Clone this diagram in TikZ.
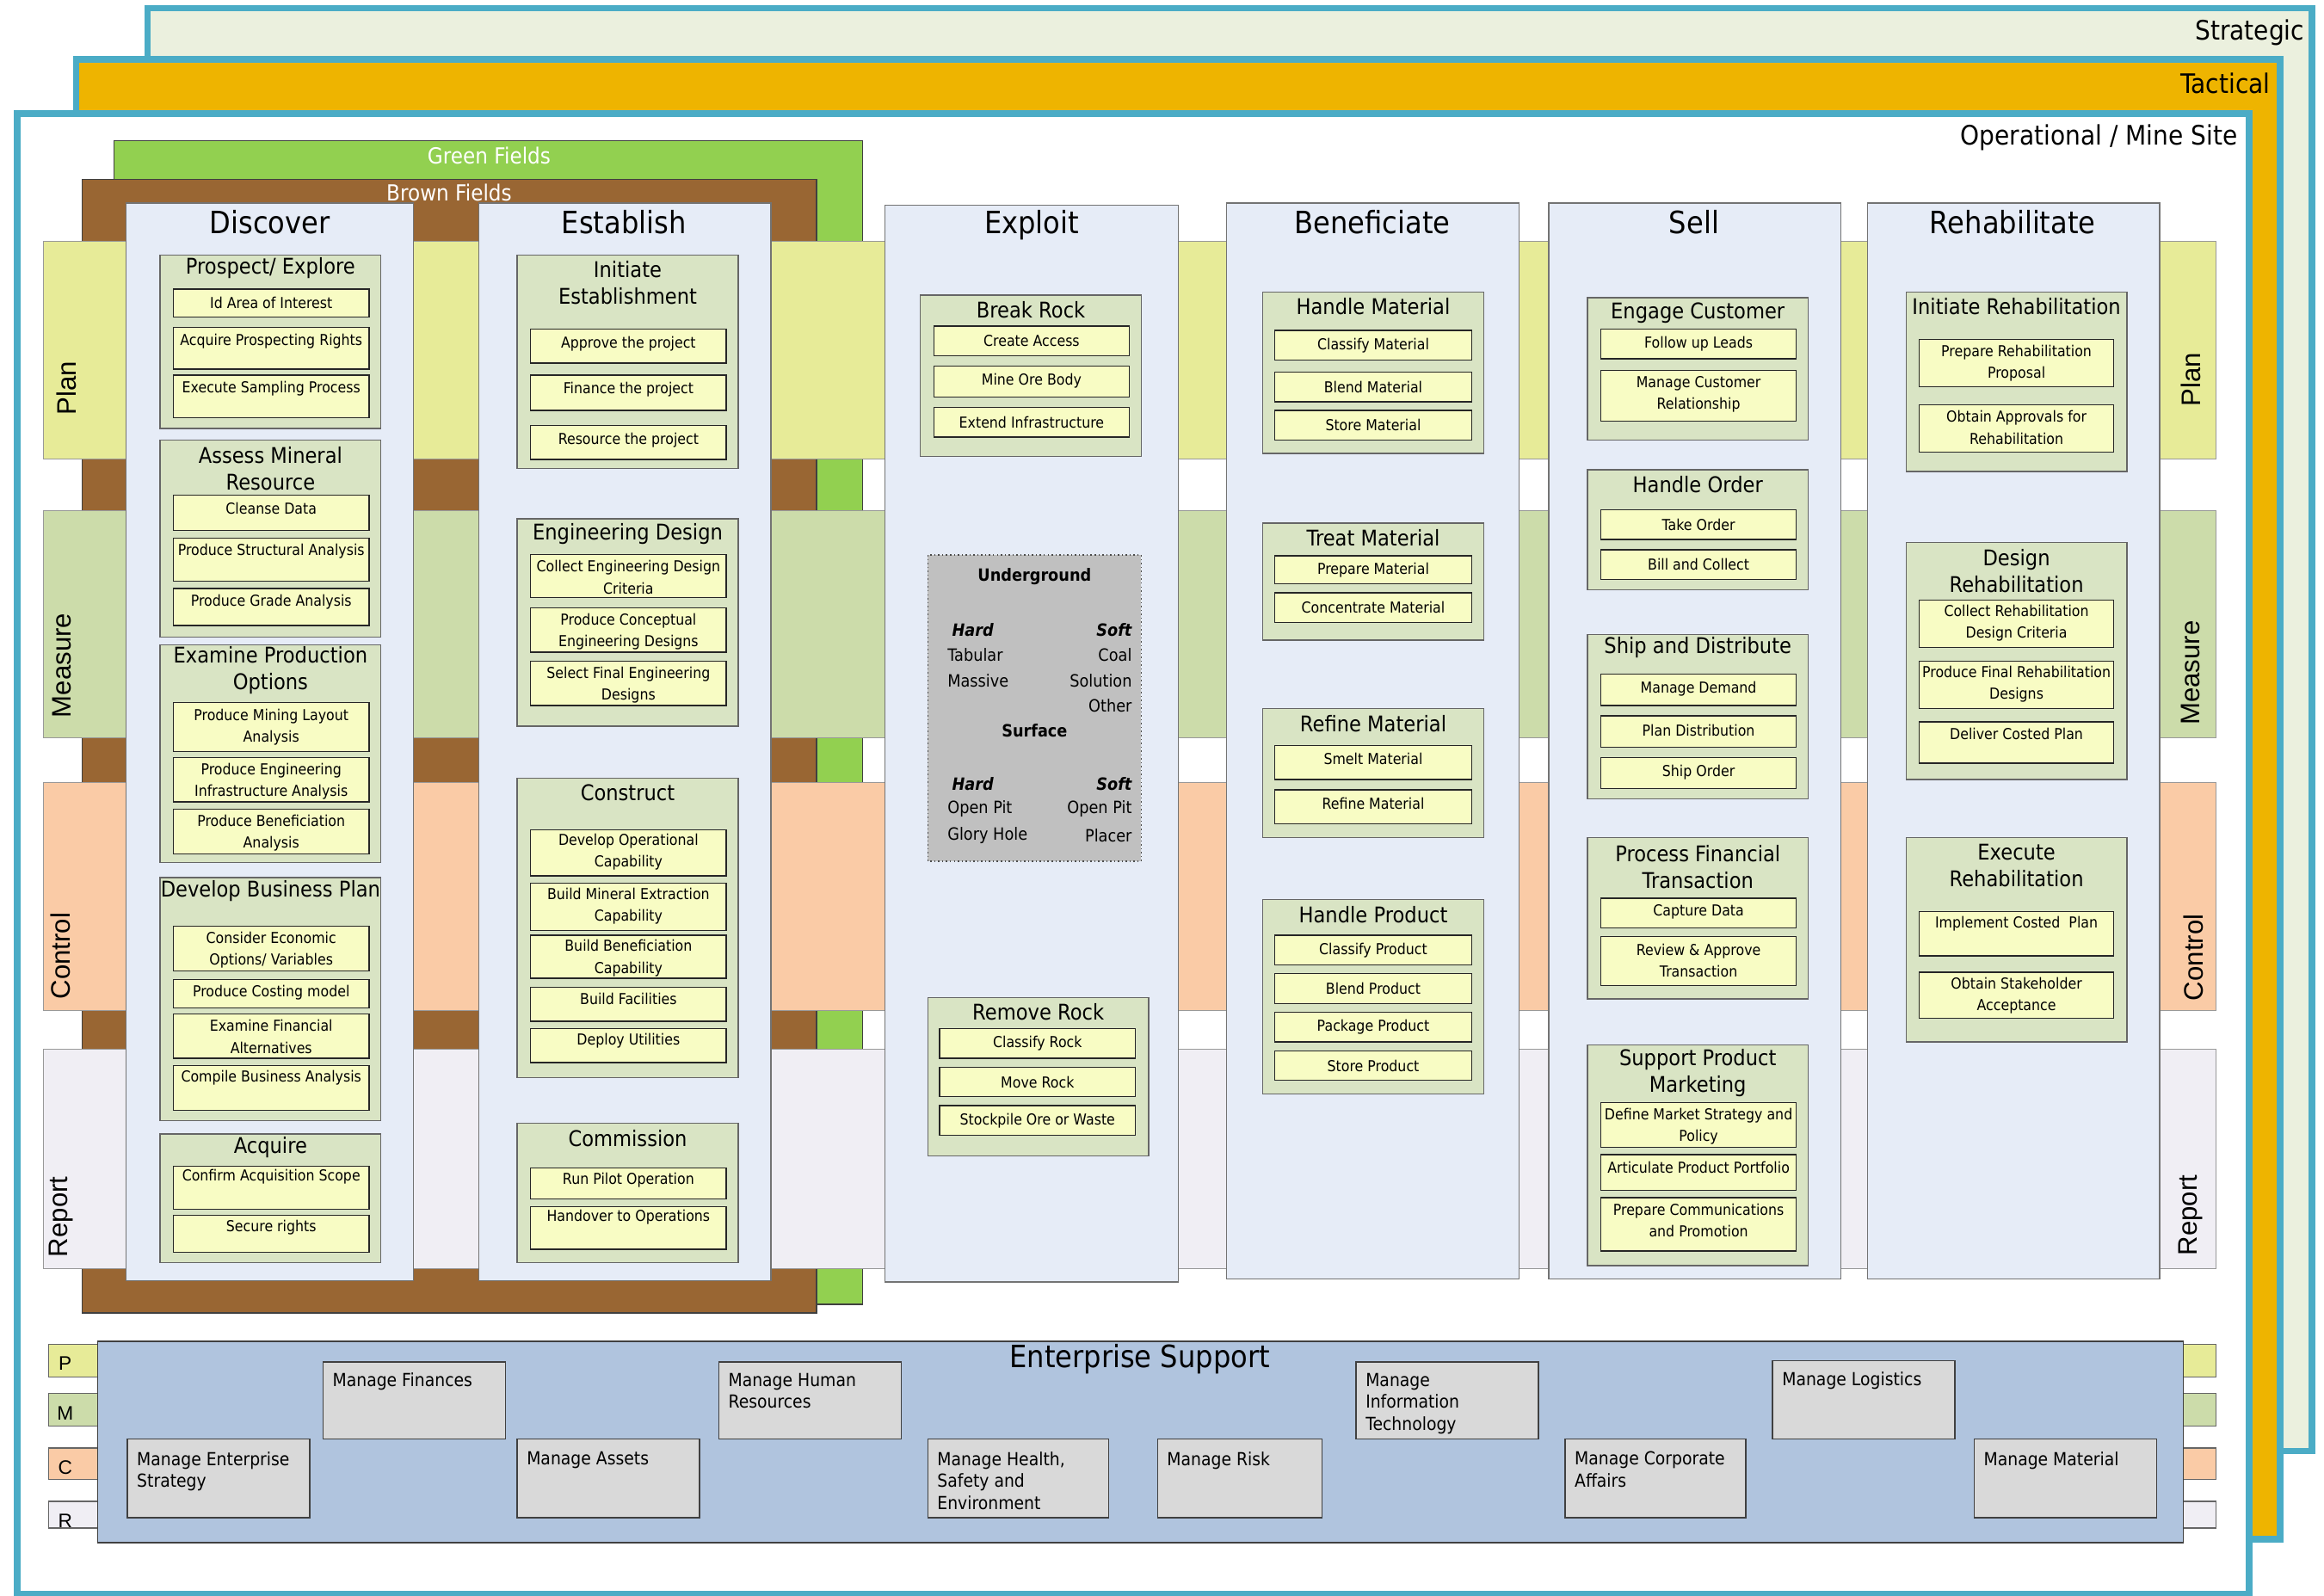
\documentclass[tikz,border=0pt]{standalone}
\usepackage{fontspec}
\setmainfont{DejaVu Sans}[FakeStretch=0.9]
\newfontfamily\bandfont{Liberation Sans}
\usepackage{tikz}

\begin{document}
\begin{tikzpicture}
	[x=0.02cm,y=-0.02cm,line join=miter,
	%Styles
	layerbox/.style={draw=layerblue,line width=2.5pt},
	layer text/.style={anchor=east,inner sep=0pt,font=\fontsize{10.3}{12}\selectfont},
	fieldbox/.style={draw=black!75,line width=0.5pt},
	field text/.style={text=white,inner sep=0pt,font=\fontsize{8.5}{10}\selectfont},
	bandbox/.style={draw=black!40,line width=0.3pt},
	band text/.style={rotate=90,inner sep=0pt,font=\bandfont\fontsize{10.3}{12}\selectfont},
	phasebox/.style={fill=phasefill,draw=black!55,line width=0.5pt},
	phase title/.style={inner sep=0pt,font=\fontsize{11.8}{14}\selectfont},
	groupbox/.style={fill=groupfill,draw=black!60,line width=0.5pt},
	group title/.style={align=center,inner sep=0pt,font=\fontsize{8.3}{10.2}\selectfont},
	taskbox/.style={fill=taskfill,draw=black!85,line width=0.45pt},
	task text/.style={align=center,inner sep=0pt,font=\fontsize{5.8}{8.3}\selectfont},
	minebox/.style={fill=minefill,draw=black!70,densely dotted,line width=0.5pt},
	mine text/.style={inner sep=0pt,font=\fontsize{6.5}{8}\selectfont},
	supportbox/.style={fill=supportfill,draw=black!75,line width=0.5pt},
	support text/.style={anchor=north west,align=left,inner sep=0pt,font=\fontsize{6.9}{8.5}\selectfont},
	tabbox/.style={draw=black!60,line width=0.4pt},
	tab text/.style={inner sep=0pt,font=\bandfont\fontsize{7.5}{9}\selectfont}
	]

	%Colors
	\definecolor{layerblue}{RGB}{75,172,198}
	\definecolor{strategicfill}{RGB}{235,240,222}
	\definecolor{tacticalfill}{RGB}{238,180,0}
	\definecolor{greenfield}{RGB}{146,208,80}
	\definecolor{brownfield}{RGB}{153,102,51}
	\definecolor{planfill}{RGB}{231,235,152}
	\definecolor{measurefill}{RGB}{204,220,170}
	\definecolor{controlfill}{RGB}{250,203,166}
	\definecolor{reportfill}{RGB}{240,238,244}
	\definecolor{phasefill}{RGB}{230,236,247}
	\definecolor{groupfill}{RGB}{217,228,196}
	\definecolor{taskfill}{RGB}{248,252,196}
	\definecolor{minefill}{RGB}{192,192,192}
	\definecolor{enterprisefill}{RGB}{176,196,222}
	\definecolor{supportfill}{RGB}{217,217,217}

	\useasboundingbox (0,0) rectangle (1568,1076.3);

	%Layers
	\draw[layerbox,fill=strategicfill] (99.5,5.5) rectangle (1560,979);
	\node[layer text] (strategic) at (1555,22) {Strategic};
	\draw[layerbox,fill=tacticalfill] (51.5,40) rectangle (1538.5,1038.5);
	\node[layer text] (tactical) at (1532,56) {Tactical};
	\draw[layerbox,fill=white] (11.7,76.5) rectangle (1517.5,1075.5);
	\node[layer text] (operational) at (1510,93) {Operational / Mine Site};

	%Fields
	\draw[fieldbox,fill=greenfield] (77,95) rectangle (582,880);
	\node[field text] (green) at (330,105) {Green Fields};
	\draw[fieldbox,fill=brownfield] (55.5,121) rectangle (551,886);
	\node[field text] (brown) at (303,130) {Brown Fields};

	%Bands
	\draw[bandbox,fill=planfill] (29,163) rectangle (1495,309.5);
	\draw[bandbox,fill=measurefill] (29,344.5) rectangle (1495,498);
	\draw[bandbox,fill=controlfill] (29,528) rectangle (1495,682);
	\draw[bandbox,fill=reportfill] (29,708) rectangle (1495,856);
	\node[band text] (planL) at (45,262) {Plan};
	\node[band text] (measureL) at (42,449) {Measure};
	\node[band text] (controlL) at (41,645) {Control};
	\node[band text] (reportL) at (41,821) {Report};
	\node[band text] (planR) at (1478,256) {Plan};
	\node[band text] (measureR) at (1478,454) {Measure};
	\node[band text] (controlR) at (1480,646) {Control};
	\node[band text] (reportR) at (1478,820) {Report};

	%Phases
	\draw[phasebox] (85,137) rectangle (279,864);
	\node[phase title] (discover) at (182,150) {Discover};
	\draw[phasebox] (323,137) rectangle (520,864);
	\node[phase title] (establish) at (421,150) {Establish};
	\draw[phasebox] (597,138.5) rectangle (795,865);
	\node[phase title] (exploit) at (696,152) {Exploit};
	\draw[phasebox] (827.5,137) rectangle (1025,863);
	\node[phase title] (beneficiate) at (926,150) {Beneficiate};
	\draw[phasebox] (1045,137) rectangle (1242,863);
	\node[phase title] (sell) at (1143,150) {Sell};
	\draw[phasebox] (1260,137) rectangle (1457,863);
	\node[phase title] (rehabilitate) at (1358,150) {Rehabilitate};

	%Discover
	\draw[groupbox] (108,172) rectangle (257,289) node[group title] (pe) at (182.5,181) {Prospect/ Explore};
	\draw[taskbox] (117,195) rectangle (249,214) node[task text] (pe1) at (183,204.5) {Id Area of Interest};
	\draw[taskbox] (117,221) rectangle (249,249) node[task text] (pe2) at (183,230) {Acquire Prospecting Rights};
	\draw[taskbox] (117,253) rectangle (249,282) node[task text] (pe3) at (183,262) {Execute Sampling Process};

	\draw[groupbox] (108,297) rectangle (257,430) node[group title] (amr) at (182.5,316) {Assess Mineral\\Resource};
	\draw[taskbox] (117,334) rectangle (249,358) node[task text] (amr1) at (183,343) {Cleanse Data};
	\draw[taskbox] (117,363) rectangle (249,392) node[task text] (amr2) at (183,372) {Produce Structural Analysis};
	\draw[taskbox] (117,397) rectangle (249,422) node[task text] (amr3) at (183,406) {Produce Grade Analysis};

	\draw[groupbox] (108,435) rectangle (257,582) node[group title] (epo) at (182.5,452.5) {Examine Production\\Options};
	\draw[taskbox] (117,474) rectangle (249,507) node[task text] (epo1) at (183,490.5) {Produce Mining Layout\\Analysis};
	\draw[taskbox] (117,511) rectangle (249,541) node[task text] (epo2) at (183,527) {Produce Engineering\\Infrastructure Analysis};
	\draw[taskbox] (117,546) rectangle (249,576) node[task text] (epo3) at (183,562) {Produce Beneficiation\\Analysis};

	\draw[groupbox] (108,592) rectangle (257,756) node[group title] (dbp) at (182.5,601) {Develop Business Plan};
	\draw[taskbox] (117,625) rectangle (249,655) node[task text] (dbp1) at (183,641) {Consider Economic\\Options/ Variables};
	\draw[taskbox] (117,661) rectangle (249,680) node[task text] (dbp2) at (183,670) {Produce Costing model};
	\draw[taskbox] (117,684) rectangle (249,714) node[task text] (dbp3) at (183,699.5) {Examine Financial\\Alternatives};
	\draw[taskbox] (117,719) rectangle (249,749) node[task text] (dbp4) at (183,727) {Compile Business Analysis};

	\draw[groupbox] (108,765) rectangle (257,852) node[group title] (acq) at (182.5,774) {Acquire};
	\draw[taskbox] (117,787) rectangle (249,816) node[task text] (acq1) at (183,794) {Confirm Acquisition Scope};
	\draw[taskbox] (117,820) rectangle (249,845) node[task text] (acq2) at (183,828) {Secure rights};

	%Establish
	\draw[groupbox] (349,172) rectangle (498,316) node[group title] (ie) at (423.5,191) {Initiate\\Establishment};
	\draw[taskbox] (358,222) rectangle (490,245) node[task text] (ie1) at (424,232) {Approve the project};
	\draw[taskbox] (358,253) rectangle (490,277) node[task text] (ie2) at (424,263) {Finance the project};
	\draw[taskbox] (358,287) rectangle (490,310) node[task text] (ie3) at (424,297) {Resource the project};

	\draw[groupbox] (349,350) rectangle (498,490) node[group title] (ed) at (423.5,360) {Engineering Design};
	\draw[taskbox] (358,374) rectangle (490,403) node[task text] (ed1) at (424,389.5) {Collect Engineering Design\\Criteria};
	\draw[taskbox] (358,410) rectangle (490,440) node[task text] (ed2) at (424,426) {Produce Conceptual\\Engineering Designs};
	\draw[taskbox] (358,446) rectangle (490,476) node[task text] (ed3) at (424,462) {Select Final Engineering\\Designs};

	\draw[groupbox] (349,525) rectangle (498,727) node[group title] (con) at (423.5,535) {Construct};
	\draw[taskbox] (358,560) rectangle (490,591) node[task text] (con1) at (424,575) {Develop Operational\\Capability};
	\draw[taskbox] (358,596) rectangle (490,628) node[task text] (con2) at (424,611.5) {Build Mineral Extraction\\Capability};
	\draw[taskbox] (358,631) rectangle (490,660) node[task text] (con3) at (424,646.5) {Build Beneficiation\\Capability};
	\draw[taskbox] (358,666) rectangle (490,689) node[task text] (con4) at (424,674) {Build Facilities};
	\draw[taskbox] (358,694) rectangle (490,717) node[task text] (con5) at (424,702) {Deploy Utilities};

	\draw[groupbox] (349,758) rectangle (498,852) node[group title] (com) at (423.5,768) {Commission};
	\draw[taskbox] (358,788) rectangle (490,809) node[task text] (com1) at (424,796) {Run Pilot Operation};
	\draw[taskbox] (358,814) rectangle (490,843) node[task text] (com2) at (424,821) {Handover to Operations};

	%Exploit
	\draw[groupbox] (621,199) rectangle (770,308) node[group title] (br) at (695.5,209) {Break Rock};
	\draw[taskbox] (630,220) rectangle (762,240) node[task text] (br1) at (696,230) {Create Access};
	\draw[taskbox] (630,247) rectangle (762,268) node[task text] (br2) at (696,257) {Mine Ore Body};
	\draw[taskbox] (630,275) rectangle (762,295) node[task text] (br3) at (696,285) {Extend Infrastructure};

	\draw[minebox] (626,374.5) rectangle (770,581);
	\node[mine text,font=\bfseries\fontsize{6.5}{8}\selectfont] (ug) at (698,389) {Underground};
	\node[mine text,anchor=west,font=\bfseries\itshape\fontsize{6.5}{8}\selectfont] (ughard) at (642,425) {Hard};
	\node[mine text,anchor=east,font=\bfseries\itshape\fontsize{6.5}{8}\selectfont] (ugsoft) at (764,425) {Soft};
	\node[mine text,anchor=west] (ug1) at (639,442) {Tabular};
	\node[mine text,anchor=east] (ug2) at (764,442) {Coal};
	\node[mine text,anchor=west] (ug3) at (639,459) {Massive};
	\node[mine text,anchor=east] (ug4) at (764,459) {Solution};
	\node[mine text,anchor=east] (ug5) at (764,476) {Other};
	\node[mine text,font=\bfseries\fontsize{6.5}{8}\selectfont] (sf) at (698,493) {Surface};
	\node[mine text,anchor=west,font=\bfseries\itshape\fontsize{6.5}{8}\selectfont] (sfhard) at (642,529) {Hard};
	\node[mine text,anchor=east,font=\bfseries\itshape\fontsize{6.5}{8}\selectfont] (sfsoft) at (764,529) {Soft};
	\node[mine text,anchor=west] (sf1) at (639,546) {Open Pit};
	\node[mine text,anchor=east] (sf2) at (764,546) {Open Pit};
	\node[mine text,anchor=west] (sf3) at (639,564) {Glory Hole};
	\node[mine text,anchor=east] (sf4) at (764,564) {Placer};

	\draw[groupbox] (626,673) rectangle (775,780) node[group title] (rr) at (700.5,683) {Remove Rock};
	\draw[taskbox] (634,694) rectangle (766,714) node[task text] (rr1) at (700,704) {Classify Rock};
	\draw[taskbox] (634,720) rectangle (766,740) node[task text] (rr2) at (700,730) {Move Rock};
	\draw[taskbox] (634,746) rectangle (766,766) node[task text] (rr3) at (700,756) {Stockpile Ore or Waste};

	%Beneficiate
	\draw[groupbox] (852,197) rectangle (1001,306) node[group title] (hm) at (926.5,207) {Handle Material};
	\draw[taskbox] (860,223) rectangle (993,243) node[task text] (hm1) at (926.5,233) {Classify Material};
	\draw[taskbox] (860,251) rectangle (993,271) node[task text] (hm2) at (926.5,261) {Blend Material};
	\draw[taskbox] (860,277) rectangle (993,297) node[task text] (hm3) at (926.5,287) {Store Material};

	\draw[groupbox] (852,353) rectangle (1001,432) node[group title] (tm) at (926.5,363) {Treat Material};
	\draw[taskbox] (860,375) rectangle (993,394) node[task text] (tm1) at (926.5,384.5) {Prepare Material};
	\draw[taskbox] (860,400) rectangle (993,420) node[task text] (tm2) at (926.5,410) {Concentrate Material};

	\draw[groupbox] (852,478) rectangle (1001,565) node[group title] (rm) at (926.5,488) {Refine Material};
	\draw[taskbox] (860,503) rectangle (993,526) node[task text] (rm1) at (926.5,512) {Smelt Material};
	\draw[taskbox] (860,533) rectangle (993,556) node[task text] (rm2) at (926.5,542) {Refine Material};

	\draw[groupbox] (852,607) rectangle (1001,738) node[group title] (hp) at (926.5,617) {Handle Product};
	\draw[taskbox] (860,631) rectangle (993,651) node[task text] (hp1) at (926.5,641) {Classify Product};
	\draw[taskbox] (860,657) rectangle (993,677) node[task text] (hp2) at (926.5,667) {Blend Product};
	\draw[taskbox] (860,683) rectangle (993,703) node[task text] (hp3) at (926.5,693) {Package Product};
	\draw[taskbox] (860,709) rectangle (993,729) node[task text] (hp4) at (926.5,719) {Store Product};

	%Sell
	\draw[groupbox] (1071,201) rectangle (1220,297) node[group title] (ec) at (1145.5,211) {Engage Customer};
	\draw[taskbox] (1080,222) rectangle (1212,242) node[task text] (ec1) at (1146,232) {Follow up Leads};
	\draw[taskbox] (1080,250) rectangle (1212,284) node[task text] (ec2) at (1146,266) {Manage Customer\\Relationship};

	\draw[groupbox] (1071,317) rectangle (1220,398) node[group title] (ho) at (1145.5,327) {Handle Order};
	\draw[taskbox] (1080,344) rectangle (1212,364) node[task text] (ho1) at (1146,354) {Take Order};
	\draw[taskbox] (1080,371) rectangle (1212,391) node[task text] (ho2) at (1146,381) {Bill and Collect};

	\draw[groupbox] (1071,428) rectangle (1220,539) node[group title] (sd) at (1145.5,437) {Ship and Distribute};
	\draw[taskbox] (1080,455) rectangle (1212,476) node[task text] (sd1) at (1146,465) {Manage Demand};
	\draw[taskbox] (1080,483) rectangle (1212,504) node[task text] (sd2) at (1146,493) {Plan Distribution};
	\draw[taskbox] (1080,511) rectangle (1212,532) node[task text] (sd3) at (1146,521) {Ship Order};

	\draw[groupbox] (1071,565) rectangle (1220,674) node[group title] (pft) at (1145.5,585) {Process Financial\\Transaction};
	\draw[taskbox] (1080,606) rectangle (1212,626) node[task text] (pft1) at (1146,615) {Capture Data};
	\draw[taskbox] (1080,632) rectangle (1212,665) node[task text] (pft2) at (1146,648) {Review \& Approve\\Transaction};

	\draw[groupbox] (1071,705) rectangle (1220,854) node[group title] (spm) at (1145.5,724) {Support Product\\Marketing};
	\draw[taskbox] (1080,744) rectangle (1212,774) node[task text] (spm1) at (1146,760) {Define Market Strategy and\\Policy};
	\draw[taskbox] (1080,779) rectangle (1212,803) node[task text] (spm2) at (1146,788) {Articulate Product Portfolio};
	\draw[taskbox] (1080,808) rectangle (1212,844) node[task text] (spm3) at (1146,823.5) {Prepare Communications\\and Promotion};

	%Rehabilitate
	\draw[groupbox] (1286,197) rectangle (1435,318) node[group title] (ir) at (1360.5,207) {Initiate Rehabilitation};
	\draw[taskbox] (1295,229) rectangle (1426,261) node[task text] (ir1) at (1360.5,245) {Prepare Rehabilitation\\Proposal};
	\draw[taskbox] (1295,273) rectangle (1426,305) node[task text] (ir2) at (1360.5,288.5) {Obtain Approvals for\\Rehabilitation};

	\draw[groupbox] (1286,366) rectangle (1435,526) node[group title] (dr) at (1360.5,385) {Design\\Rehabilitation};
	\draw[taskbox] (1295,405) rectangle (1426,437) node[task text] (dr1) at (1360.5,420.5) {Collect Rehabilitation\\Design Criteria};
	\draw[taskbox] (1295,446) rectangle (1426,478) node[task text] (dr2) at (1360.5,461.5) {Produce Final Rehabilitation\\Designs};
	\draw[taskbox] (1295,487) rectangle (1426,515) node[task text] (dr3) at (1360.5,495) {Deliver Costed Plan};

	\draw[groupbox] (1286,565) rectangle (1435,703) node[group title] (er) at (1360.5,584) {Execute\\Rehabilitation};
	\draw[taskbox] (1295,615) rectangle (1426,645) node[task text] (er1) at (1360.5,623) {Implement Costed~ Plan};
	\draw[taskbox] (1295,656) rectangle (1426,687) node[task text] (er2) at (1360.5,671.5) {Obtain Stakeholder\\Acceptance};

	%Enterprise support
	\draw[tabbox,fill=planfill] (33,907) rectangle (66,929);
	\draw[tabbox,fill=measurefill] (33,940) rectangle (66,962);
	\draw[tabbox,fill=controlfill] (33,977) rectangle (66,998);
	\draw[tabbox,fill=reportfill] (33,1013) rectangle (66,1031);
	\draw[tabbox,fill=planfill] (1473,907) rectangle (1495,929);
	\draw[tabbox,fill=measurefill] (1473,940) rectangle (1495,962);
	\draw[tabbox,fill=controlfill] (1473,977) rectangle (1495,998);
	\draw[tabbox,fill=reportfill] (1473,1013) rectangle (1495,1031);
	\node[tab text] (tabP) at (44,920) {P};
	\node[tab text] (tabM) at (44,953.5) {M};
	\node[tab text] (tabC) at (44,990) {C};
	\node[tab text] (tabR) at (44,1026) {R};

	\draw[supportbox,fill=enterprisefill] (66,905) rectangle (1473,1041);
	\node[phase title] (es) at (769,917) {Enterprise Support};

	\draw[supportbox] (218,919) rectangle (341,971) node[support text] (mfin) at (224,926) {Manage Finances};
	\draw[supportbox] (485,919) rectangle (608,971) node[support text] (mhr) at (491,926) {Manage Human\\Resources};
	\draw[supportbox] (915,919) rectangle (1038,971) node[support text] (mit) at (921,926) {Manage\\Information\\Technology};
	\draw[supportbox] (1196,918) rectangle (1319,971) node[support text] (mlog) at (1202,925) {Manage Logistics};
	\draw[supportbox] (86,971) rectangle (209,1024) node[support text] (mes) at (92,979) {Manage Enterprise\\Strategy};
	\draw[supportbox] (349,971) rectangle (472,1024) node[support text] (mas) at (355,979) {Manage Assets};
	\draw[supportbox] (626,971) rectangle (748,1024) node[support text] (mhse) at (632,979) {Manage Health,\\Safety and\\Environment};
	\draw[supportbox] (781,971) rectangle (892,1024) node[support text] (mrisk) at (787,979) {Manage Risk};
	\draw[supportbox] (1056,971) rectangle (1178,1024) node[support text] (mca) at (1062,979) {Manage Corporate\\Affairs};
	\draw[supportbox] (1332,971) rectangle (1455,1024) node[support text] (mmat) at (1338,979) {Manage Material};
\end{tikzpicture}
\end{document}
